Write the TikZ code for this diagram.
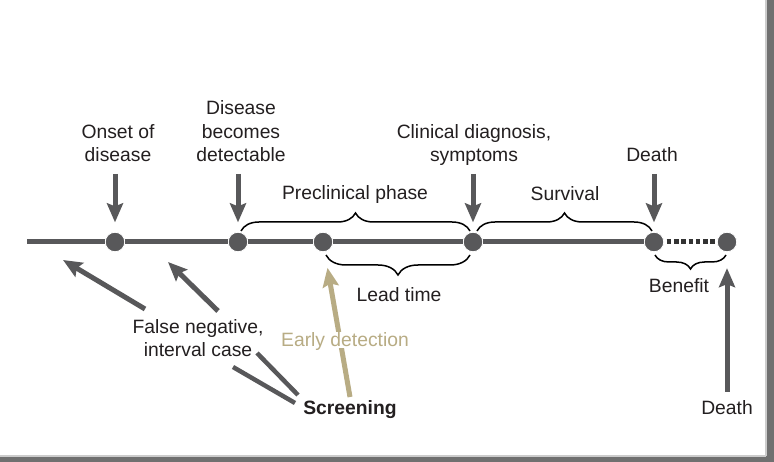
\documentclass[tikz,border=0pt]{standalone}
\usepackage{fontspec}
\setmainfont{Liberation Sans}
\usetikzlibrary{arrows.meta,decorations.pathreplacing}
\definecolor{lg}{HTML}{58585A}
\definecolor{ol}{HTML}{B8AC84}
\definecolor{tx}{HTML}{231F20}
\definecolor{frame}{HTML}{707070}
\begin{document}
\begin{tikzpicture}[x=1pt,y=-1pt,
  lab/.style={inner sep=0pt, text depth=0pt, align=center, anchor=south,
              font=\fontsize{19.3}{23.5}\selectfont, text=tx},
  dot/.style={circle, fill=lg, draw=white, line width=0.8pt, minimum size=19.5pt, inner sep=0pt},
  tl/.style={line width=5pt, draw=lg},
  arr/.style={line width=5pt, draw=lg, -{Stealth[length=19pt,width=16pt,inset=3pt]}},
  oarr/.style={line width=5pt, draw=ol, -{Stealth[length=19pt,width=16pt,inset=3pt]}},
  link/.style={line width=4.5pt, draw=lg},
  br/.style={decorate, decoration={brace, amplitude=#1}, line width=1.5pt, draw=black},
  mbr/.style={decorate, decoration={brace, mirror, amplitude=#1}, line width=1.5pt, draw=black},
  ]
\useasboundingbox (0,0) rectangle (774,462);
\fill[white] (0,0) rectangle (774,462);
\fill[frame] (766,0) rectangle (774,462);
\fill[frame] (0,456) rectangle (774,462);
\fill[black!20] (765,0) rectangle (766.5,456);
\fill[black!20] (0,455) rectangle (766,456.5);

% timeline points
\node[dot] (n1) at (115,242) {};
\node[dot] (n2) at (238,242) {};
\node[dot] (n3) at (323,242) {};
\node[dot] (n4) at (473,242) {};
\node[dot] (n5) at (654,242) {};
\node[dot] (n6) at (727,242) {};
\coordinate (s) at (27,242);
\draw[tl] (s) -- (n1);
\draw[tl] (n1) -- (n2);
\draw[tl] (n2) -- (n3);
\draw[tl] (n3) -- (n4);
\draw[tl] (n4) -- (n5);
\draw[line width=5pt, draw=black!80, dash pattern=on 4.6pt off 2.7pt,
      shorten <=2.5pt, shorten >=1pt] (n5) -- (n6);

% top labels
\node[lab] (onset) at (118,162) {Onset of\\disease};
\node[lab] (detect) at (241,162) {Disease\\becomes\\detectable};
\node[lab] (clin) at (474,162) {Clinical diagnosis,\\symptoms};
\node[lab] (death1) at (652,162) {Death};

\draw[arr, shorten <=12pt, shorten >=9.5pt] (n1 |- onset.south) -- (n1);
\draw[arr, shorten <=12pt, shorten >=9.5pt] (n2 |- detect.south) -- (n2);
\draw[arr, shorten <=12pt, shorten >=9.5pt] (n4 |- clin.south) -- (n4);
\draw[arr, shorten <=12pt, shorten >=9.5pt] (n5 |- death1.south) -- (n5);

% braces
\draw[br=18pt] (241,231) -- (470,231);
\draw[br=18pt] (477,231) -- (652,231);
\draw[mbr=20pt] (326,255) -- (470,255);
\draw[mbr=14pt] (655,255) -- (726,255);

\node[lab] (pre) at (355,200) {Preclinical phase};
\node[lab] (surv) at (565,201) {Survival};
\node[lab] (lead) at (399,302) {Lead time};
\node[lab] (ben) at (679,293) {Benefit};

% death (with screening)
\node[lab] (death2) at (727,415) {Death};
\draw[arr, shorten <=9pt, shorten >=16pt] (death2.north) -- (n6);

% screening
\node[lab, font=\fontsize{19.3}{23.5}\selectfont\bfseries] (scr) at (350,415) {Screening};
\coordinate (edtail) at (350,397);
\draw[oarr, shorten >=16pt] (edtail) -- (n3);
\node[lab, text=ol, fill=white, inner sep=1pt] (ed) at (345,348) {Early detection};

\node[lab] (fn) at (198,357) {False negative,\\interval case};
\coordinate (fa1) at (145,309);
\coordinate (ft1) at (63,260);
\coordinate (fa2) at (218,311);
\coordinate (ft2) at (168,262);
\draw[arr] (fa1) -- (ft1);
\draw[arr] (fa2) -- (ft2);

\coordinate (la1) at (233,367);
\coordinate (lb1) at (295,403);
\coordinate (la2) at (257,353);
\coordinate (lb2) at (298,395);
\draw[link] (la1) -- (lb1);
\draw[link] (la2) -- (lb2);
\end{tikzpicture}
\end{document}
